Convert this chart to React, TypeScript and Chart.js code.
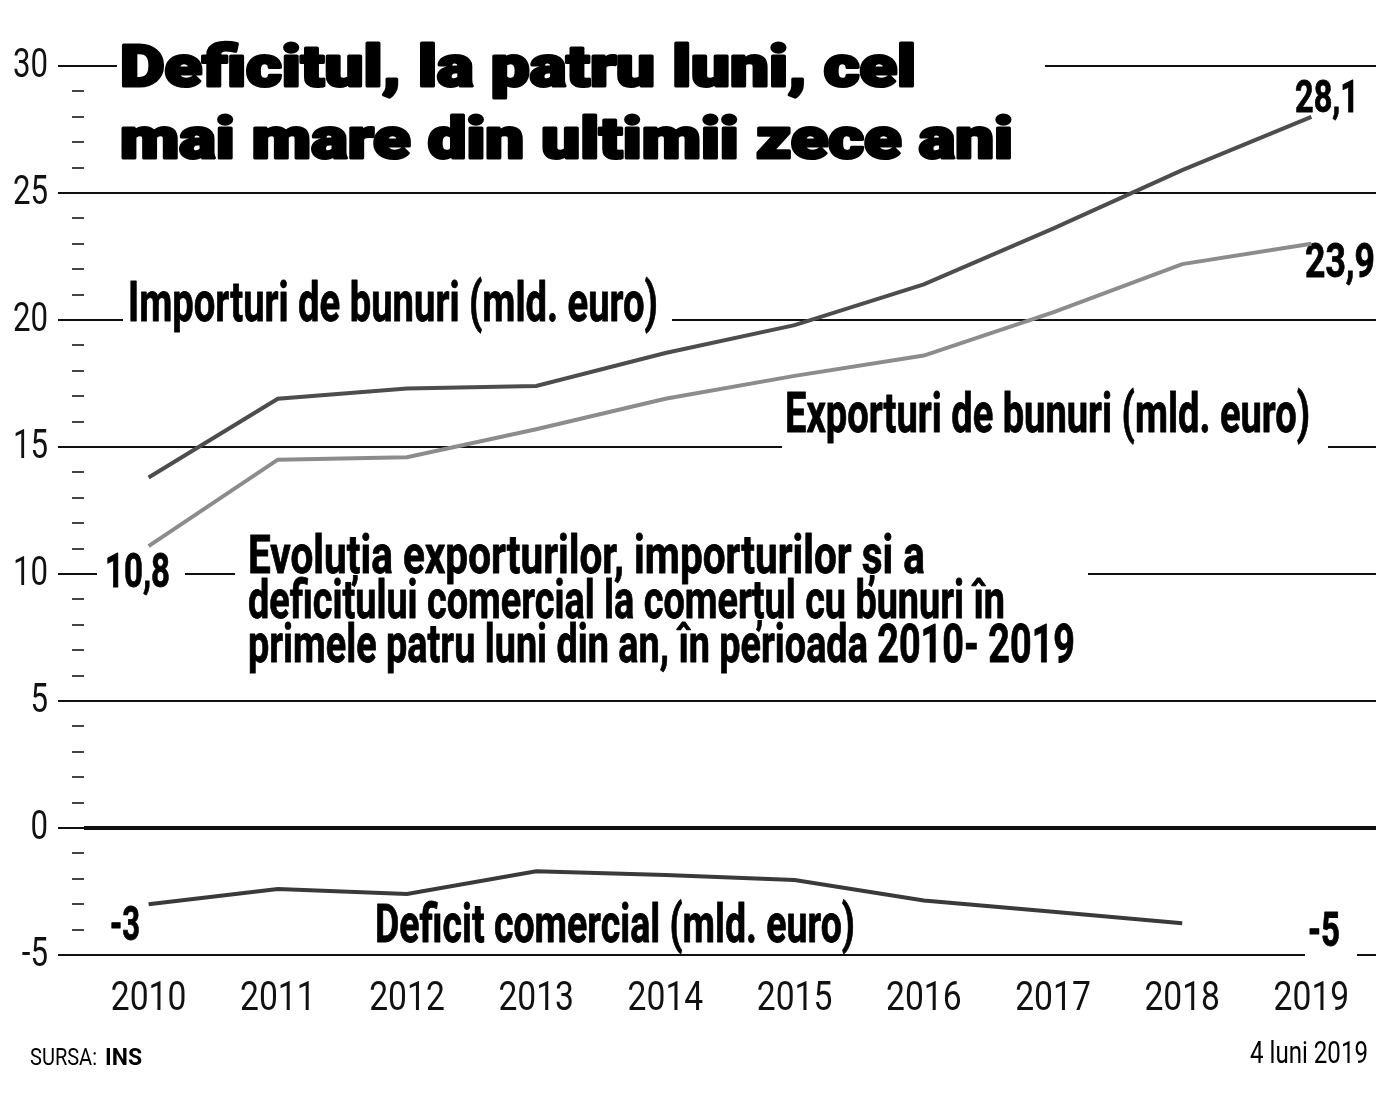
import React, { useEffect, useRef } from "react";
import { Chart, registerables } from "chart.js";

Chart.register(...registerables);

const years = ["2010", "2011", "2012", "2013", "2014", "2015", "2016", "2017", "2018", "2019"];
const imports = [13.8, 16.9, 17.3, 17.4, 18.7, 19.8, 21.4, 23.6, 25.9, 28.0];
const exportsV = [11.1, 14.5, 14.6, 15.7, 16.9, 17.8, 18.6, 20.3, 22.2, 23.0];
const deficit = [-3.0, -2.4, -2.6, -1.7, -1.85, -2.05, -2.85, -3.3, -3.75, null];

const titleLines = ["Deficitul, la patru luni, cel", "mai mare din ultimii zece ani"];
const importsLabel = "Importuri de bunuri (mld. euro)";
const exportsLabel = "Exporturi de bunuri (mld. euro)";
const deficitLabel = "Deficit comercial (mld. euro)";
const noteLines = [
  "Evoluția exporturilor, importurilor și a",
  "deficitului comercial la comerțul cu bunuri în",
  "primele patru luni din an, în perioada 2010- 2019",
];
const valueLabels = { exp2010: "10,8", def2010: "-3", imp2019: "28,1", exp2019: "23,9", def2019: "-5" };
const sourceLabel = "SURSA: ";
const sourceName = "INS";
const dateLabel = "4 luni 2019";

const SANS = '"Roboto", "Noto Sans", sans-serif';
const HEAVY = '"Roboto", "Inter", "DejaVu Sans", sans-serif';

function drawText(
  ctx: CanvasRenderingContext2D,
  text: string,
  x: number,
  y: number,
  font: string,
  opts: { width?: number; sx?: number; align?: "left" | "right" | "center"; stroke?: number; color?: string } = {}
) {
  ctx.save();
  ctx.font = font;
  const color = opts.color || "#000";
  ctx.fillStyle = color;
  ctx.strokeStyle = color;
  ctx.textBaseline = "alphabetic";
  ctx.textAlign = "left";
  const w = ctx.measureText(text).width;
  const sx = opts.width ? opts.width / w : opts.sx || 1;
  const drawnW = w * sx;
  let x0 = x;
  if (opts.align === "right") x0 = x - drawnW;
  else if (opts.align === "center") x0 = x - drawnW / 2;
  ctx.translate(x0, y);
  ctx.scale(sx, 1);
  if (opts.stroke) {
    ctx.lineWidth = opts.stroke;
    ctx.lineJoin = "round";
    ctx.strokeText(text, 0, 0);
  }
  ctx.fillText(text, 0, 0);
  ctx.restore();
}

function box(ctx: CanvasRenderingContext2D, x1: number, y1: number, x2: number, y2: number) {
  ctx.save();
  ctx.fillStyle = "#fff";
  ctx.fillRect(x1, y1, x2 - x1, y2 - y1);
  ctx.restore();
}

const annotations = {
  id: "annotations",
  beforeDatasetsDraw(chart: any) {
    const ctx: CanvasRenderingContext2D = chart.ctx;
    const y = chart.scales.y;
    const x = chart.scales.x;

    // minor ticks
    ctx.save();
    ctx.strokeStyle = "#444";
    ctx.lineWidth = 2;
    for (let v = -5; v <= 30; v++) {
      if (v % 5 === 0) continue;
      const py = Math.round(y.getPixelForValue(v));
      ctx.beginPath();
      ctx.moveTo(72, py);
      ctx.lineTo(84, py);
      ctx.stroke();
    }
    ctx.restore();

    // axis tick labels, from the scales
    y.ticks.forEach((t: any) => {
      const py = y.getPixelForValue(t.value);
      drawText(ctx, String(t.label), 48, py + 11, `40px ${SANS}`, { sx: 0.78, align: "right", color: "#111" });
    });
    x.ticks.forEach((t: any, i: number) => {
      const px = x.getPixelForTick(i);
      drawText(ctx, String(x.getLabelForValue(t.value)), px, 1010, `41px ${SANS}`, { sx: 0.82, align: "center", color: "#111" });
    });

    // white boxes interrupting gridlines
    box(ctx, 117, 38, 1045, 172);
    box(ctx, 123, 275, 672, 340);
    box(ctx, 782, 392, 1328, 455);
    box(ctx, 97, 548, 185, 595);
    box(ctx, 235, 528, 1088, 680);
    box(ctx, 1305, 915, 1357, 962);

    // title
    drawText(ctx, titleLines[0], 120, 86, `900 57px ${HEAVY}`, { width: 796, stroke: 3 });
    drawText(ctx, titleLines[1], 120, 158, `900 57px ${HEAVY}`, { width: 893, stroke: 3 });

    const b = (s: number) => `bold ${s}px ${SANS}`;
    drawText(ctx, importsLabel, 128, 321, b(55), { width: 530, stroke: 0.8 });
    drawText(ctx, exportsLabel, 785, 432, b(55), { width: 525, stroke: 0.8 });
    drawText(ctx, noteLines[0], 248, 573, b(53), { width: 677, stroke: 0.8 });
    drawText(ctx, noteLines[1], 248, 618, b(53), { width: 757, stroke: 0.8 });
    drawText(ctx, noteLines[2], 248, 662, b(53), { width: 827, stroke: 0.8 });
    drawText(ctx, valueLabels.exp2010, 105, 587, b(48), { width: 65, stroke: 0.8 });
    drawText(ctx, valueLabels.def2010, 110, 940, b(48), { width: 30, stroke: 0.8 });
    drawText(ctx, deficitLabel, 375, 942, b(53), { width: 480, stroke: 0.8 });
    drawText(ctx, valueLabels.def2019, 1308, 946, b(48), { width: 32, stroke: 0.8 });
    drawText(ctx, valueLabels.imp2019, 1295, 112, b(45), { width: 64, stroke: 0.8 });
    drawText(ctx, valueLabels.exp2019, 1305, 277, b(48), { width: 70, stroke: 0.8 });

    // footer
    drawText(ctx, sourceLabel, 30, 1065, `24px ${SANS}`, { width: 72 });
    drawText(ctx, sourceName, 105, 1065, `bold 24px ${SANS}`, { width: 37 });
    drawText(ctx, dateLabel, 1250, 1063, `31px ${SANS}`, { width: 118 });
  },
};

export default function App() {
  const ref = useRef<HTMLCanvasElement | null>(null);
  useEffect(() => {
    document.body.style.margin = "0";
    if (!ref.current) return;
    const chart = new Chart(ref.current, {
      type: "line",
      data: {
        labels: years,
        datasets: [
          { label: "Importuri", data: imports, borderColor: "#4d4d4d", borderWidth: 4, pointRadius: 0, tension: 0 },
          { label: "Exporturi", data: exportsV, borderColor: "#8c8c8c", borderWidth: 4, pointRadius: 0, tension: 0 },
          { label: "Deficit", data: deficit, borderColor: "#3a3a3a", borderWidth: 4, pointRadius: 0, tension: 0 },
        ],
      },
      options: {
        animation: false,
        responsive: false,
        devicePixelRatio: 1,
        layout: { padding: { top: 66, right: 20, left: 0, bottom: 0 } },
        plugins: { legend: { display: false }, tooltip: { enabled: false } },
        scales: {
          x: {
            type: "category",
            offset: true,
            grid: { display: false },
            border: { display: false },
            ticks: { color: "transparent", font: { family: SANS, size: 20 }, maxRotation: 0, autoSkip: false },
            afterFit: (s: any) => { s.height = 142; },
          },
          y: {
            min: -5,
            max: 30,
            border: { display: false },
            grid: {
              color: "#111",
              lineWidth: (c: any) => (c.tick && c.tick.value === 0 ? 4 : 2),
              tickLength: 26,
              tickWidth: 2,
              tickColor: "#111",
            },
            ticks: { stepSize: 5, color: "transparent", font: { family: SANS, size: 20 } },
            afterFit: (s: any) => { s.width = 84; },
          },
        },
      },
      plugins: [annotations],
    });
    return () => chart.destroy();
  }, []);
  return (
    <div style={{ width: 1396, height: 1097, background: "#fff" }}>
      <canvas ref={ref} width={1396} height={1097} style={{ display: "block" }} />
    </div>
  );
}
